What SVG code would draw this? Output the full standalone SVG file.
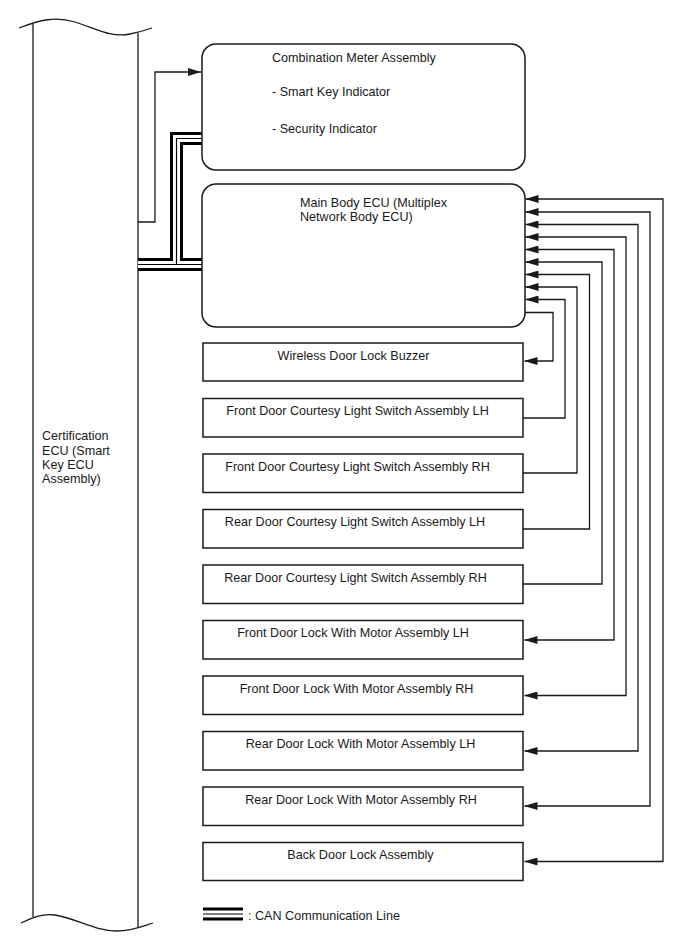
<svg xmlns="http://www.w3.org/2000/svg" width="688" height="949" viewBox="0 0 688 949">
<style>
.box{fill:#fff;stroke:#1a1a1a;stroke-width:1.5}
.ln{fill:none;stroke:#1a1a1a;stroke-width:1.3}
.t{font-family:"Liberation Sans",Arial,sans-serif;font-size:12.6px;fill:#1a1a1a}
.c{text-anchor:middle}
.can1{fill:none;stroke:#000;stroke-width:13}
.can2{fill:none;stroke:#fff;stroke-width:7}
.can3{fill:none;stroke:#000;stroke-width:1.2}
</style>
<defs>
<marker id="ah" markerWidth="13" markerHeight="8" refX="13" refY="4" orient="auto-start-reverse" markerUnits="userSpaceOnUse"><path d="M0,0 L13,4 L0,8 z" fill="#1a1a1a"/></marker>
</defs>
<g id="cert-ecu">
<path class="ln" d="M19,28 C40,20 55,16 75,22 C95,28 110,38 130,34 C140,32 146,30 152,28"/>
<path class="ln" d="M33,24 V917"/>
<path class="ln" d="M138,33 V927"/>
<path class="ln" d="M21,923 C32,918 42,913 55,915 C75,918 95,931 117,931 C132,931 143,926 153,923"/>
<text class="t" x="42" y="440">Certification</text>
<text class="t" x="42" y="454.5">ECU (Smart</text>
<text class="t" x="42" y="468.5">Key ECU</text>
<text class="t" x="42" y="482.5">Assembly)</text>
</g>
<g id="connectors">
<path class="can1" d="M202,138.5 H176.5 V264.5 M138,264.5 H202"/>
<path class="can2" d="M202,138.5 H176.5 V264.5 M138,264.5 H202"/>
<path class="can3" d="M202,138.5 H176.5 V264.5 M138,264.5 H202"/>
<path class="ln" d="M138,222 H155 V72 H201" marker-end="url(#ah)"/>
<path class="ln" d="M525.5,199 H663 V861.5 H524.5" marker-start="url(#ah)" marker-end="url(#ah)"/>
<path class="ln" d="M525.5,212 H650 V806 H524.5" marker-start="url(#ah)" marker-end="url(#ah)"/>
<path class="ln" d="M525.5,224.5 H638 V751 H524.5" marker-start="url(#ah)" marker-end="url(#ah)"/>
<path class="ln" d="M525.5,237 H626 V695.5 H524.5" marker-start="url(#ah)" marker-end="url(#ah)"/>
<path class="ln" d="M525.5,249.5 H614 V640 H524.5" marker-start="url(#ah)" marker-end="url(#ah)"/>
<path class="ln" d="M523,584 H602 V262 H525.5" marker-end="url(#ah)"/>
<path class="ln" d="M523,529 H589.5 V274.5 H525.5" marker-end="url(#ah)"/>
<path class="ln" d="M523,473 H577 V287 H525.5" marker-end="url(#ah)"/>
<path class="ln" d="M523,418 H565 V299.5 H525.5" marker-end="url(#ah)"/>
<path class="ln" d="M525,312.5 H553 V361 H524.5" marker-end="url(#ah)"/>
</g>
<g id="combination-meter">
<rect class="box" x="202" y="44" width="323" height="126" rx="14"/>
<text class="t" x="272" y="62">Combination Meter Assembly</text>
<text class="t" x="272" y="96">- Smart Key Indicator</text>
<text class="t" x="272" y="133">- Security Indicator</text>
</g>
<g id="main-body-ecu">
<rect class="box" x="202" y="184" width="323" height="143" rx="14"/>
<text class="t" x="300" y="207">Main Body ECU (Multiplex</text>
<text class="t" x="300" y="221">Network Body ECU)</text>
</g>
<g id="buzzer"><rect class="box" x="203" y="343" width="320" height="38"/><text class="t c" x="353.5" y="360">Wireless Door Lock Buzzer</text></g>
<g id="fd-courtesy-lh"><rect class="box" x="203" y="398.5" width="320" height="38.5"/><text class="t c" x="357.5" y="415">Front Door Courtesy Light Switch Assembly LH</text></g>
<g id="fd-courtesy-rh"><rect class="box" x="203" y="454" width="320" height="38.5"/><text class="t c" x="357.5" y="471">Front Door Courtesy Light Switch Assembly RH</text></g>
<g id="rd-courtesy-lh"><rect class="box" x="203" y="509.5" width="320" height="38.5"/><text class="t c" x="355" y="526">Rear Door Courtesy Light Switch Assembly LH</text></g>
<g id="rd-courtesy-rh"><rect class="box" x="203" y="565" width="320" height="38.5"/><text class="t c" x="355.5" y="582">Rear Door Courtesy Light Switch Assembly RH</text></g>
<g id="fd-lock-lh"><rect class="box" x="203" y="620.5" width="320" height="38.5"/><text class="t c" x="353" y="637">Front Door Lock With Motor Assembly LH</text></g>
<g id="fd-lock-rh"><rect class="box" x="203" y="676" width="320" height="38.5"/><text class="t c" x="356.5" y="693">Front Door Lock With Motor Assembly RH</text></g>
<g id="rd-lock-lh"><rect class="box" x="203" y="731.5" width="320" height="38.5"/><text class="t c" x="360.5" y="748">Rear Door Lock With Motor Assembly LH</text></g>
<g id="rd-lock-rh"><rect class="box" x="203" y="787" width="320" height="38.5"/><text class="t c" x="361" y="804">Rear Door Lock With Motor Assembly RH</text></g>
<g id="back-door-lock"><rect class="box" x="203" y="842.5" width="320" height="38"/><text class="t c" x="360.5" y="859">Back Door Lock Assembly</text></g>
<g id="legend">
<path class="can1" d="M203,914 H243"/>
<path class="can2" d="M203,914 H243"/>
<path class="can3" d="M203,914 H243"/>
<text class="t" x="248" y="920">: CAN Communication Line</text>
</g>
</svg>
